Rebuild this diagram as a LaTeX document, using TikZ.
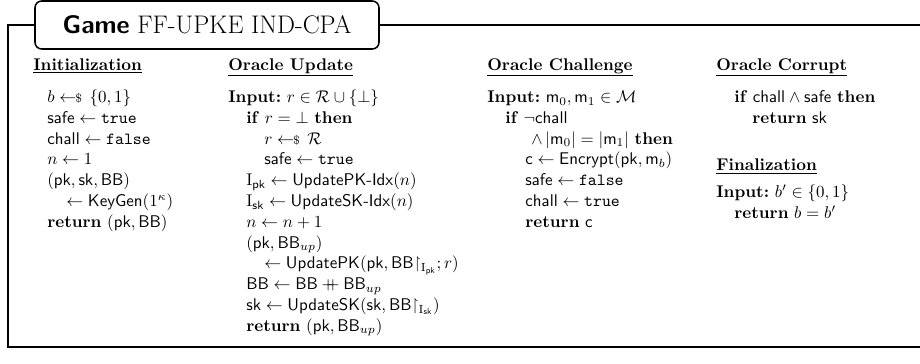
\documentclass[tikz,border=0pt]{standalone}
\usepackage{amsmath,amssymb}
\newcommand{\smp}{\mathrel{\leftarrow\!\!{\scriptstyle\$}}\,}
\newcommand{\kwif}{\textbf{if}}
\newcommand{\kwthen}{\textbf{then}}
\newcommand{\kwret}{\textbf{return}}
\newcommand{\kwin}{\textbf{Input:}}
\newcommand{\cat}{\mathbin{+\!\!\!+}}
\tikzset{
  ln/.style={anchor=base west, inner sep=0pt, font=\fontsize{10}{12}\selectfont},
  hd/.style={ln},
  titlebox/.style={draw, rounded corners=4pt, line width=0.9pt, fill=white, minimum width=344*0.59pt, minimum height=48*0.59pt, inner sep=0pt, font=\fontsize{15}{18}\selectfont},
  frameline/.style={line width=0.7pt}
}
\begin{document}
\begin{tikzpicture}[x=0.59pt,y=-0.59pt]
\useasboundingbox (0,0) rectangle (920,363);
% frame
\coordinate (ftl) at (8,25);
\coordinate (fbl) at (8,347);
\coordinate (fbr) at (920,347);
\coordinate (ftr) at (920,25);
\node[titlebox] (title) at (207,25) {\textsf{\bfseries Game} FF-UPKE IND-CPA};
\draw[frameline] (title.west) -- (ftl) -- (fbl) -- (fbr);
\draw[frameline] (title.east) -- (ftr);
% column 1
\node[hd] (h1) at (33,70) {\underline{\textbf{Initialization}}};
\node[ln] (a1) at (47,102.5) {$b \smp \{0,1\}$};
\node[ln] (a2) at (47,123.3) {$\mathsf{safe} \gets \texttt{true}$};
\node[ln] (a3) at (47,144.1) {$\mathsf{chall} \gets \texttt{false}$};
\node[ln] (a4) at (47,164.9) {$n \gets 1$};
\node[ln] (a5) at (47,185.7) {$(\mathsf{pk},\mathsf{sk},\mathsf{BB})$};
\node[ln] (a6) at (66,206.5) {$\gets \mathsf{KeyGen}(1^\kappa)$};
\node[ln] (a7) at (47,227.3) {\kwret\ $(\mathsf{pk},\mathsf{BB})$};
% column 2
\node[hd] (h2) at (228,70) {\underline{\textbf{Oracle Update}}};
\node[ln] (b1) at (228,102.5) {\kwin\ $r\in\mathcal{R}\cup\{\bot\}$};
\node[ln] (b2) at (246,123.3) {\kwif\ $r=\bot$ \kwthen};
\node[ln] (b3) at (264,144.1) {$r \smp \mathcal{R}$};
\node[ln] (b4) at (264,164.9) {$\mathsf{safe}\gets\texttt{true}$};
\node[ln] (b5) at (246,185.7) {$\mathrm{I}_{\mathsf{pk}} \gets \mathsf{UpdatePK\text{-}Idx}(n)$};
\node[ln] (b6) at (246,206.5) {$\mathrm{I}_{\mathsf{sk}} \gets \mathsf{UpdateSK\text{-}Idx}(n)$};
\node[ln] (b7) at (246,227.3) {$n\gets n+1$};
\node[ln] (b8) at (246,248.1) {$(\mathsf{pk},\mathsf{BB}_{up})$};
\node[ln] (b9) at (264,268.9) {$\gets \mathsf{UpdatePK}(\mathsf{pk},\mathsf{BB}{\upharpoonright_{\mathrm{I}_{\mathsf{pk}}}};r)$};
\node[ln] (b10) at (246,289.7) {$\mathsf{BB}\gets\mathsf{BB} \cat \mathsf{BB}_{up}$};
\node[ln] (b11) at (246,310.5) {$\mathsf{sk}\gets\mathsf{UpdateSK}(\mathsf{sk},\mathsf{BB}{\upharpoonright_{\mathrm{I}_{\mathsf{sk}}}})$};
\node[ln] (b12) at (246,331.3) {\kwret\ $(\mathsf{pk},\mathsf{BB}_{up})$};
% column 3
\node[hd] (h3) at (487,70) {\underline{\textbf{Oracle Challenge}}};
\node[ln] (c1) at (487,102.5) {\kwin\ $\mathsf{m}_0,\mathsf{m}_1\in\mathcal{M}$};
\node[ln] (c2) at (505,123.3) {\kwif\ $\neg\mathsf{chall}$};
\node[ln] (c3) at (531,144.1) {$\wedge\,|\mathsf{m}_0| = |\mathsf{m}_1|$ \kwthen};
\node[ln] (c4) at (525,164.9) {$\mathsf{c}\gets\mathsf{Encrypt}(\mathsf{pk},\mathsf{m}_b)$};
\node[ln] (c5) at (525,185.7) {$\mathsf{safe}\gets\texttt{false}$};
\node[ln] (c6) at (525,206.5) {$\mathsf{chall}\gets\texttt{true}$};
\node[ln] (c7) at (525,227.3) {\kwret\ $\mathsf{c}$};
% column 4
\node[hd] (h4) at (716,70) {\underline{\textbf{Oracle Corrupt}}};
\node[ln] (d1) at (734,102.5) {\kwif\ $\mathsf{chall}\wedge\mathsf{safe}$ \kwthen};
\node[ln] (d2) at (752,123.3) {\kwret\ $\mathsf{sk}$};
\node[hd] (h5) at (716,170.5) {\underline{\textbf{Finalization}}};
\node[ln] (e1) at (716,197.5) {\kwin\ $b'\in\{0,1\}$};
\node[ln] (e2) at (734,218.3) {\kwret\ $b=b'$};
\end{tikzpicture}
\end{document}
